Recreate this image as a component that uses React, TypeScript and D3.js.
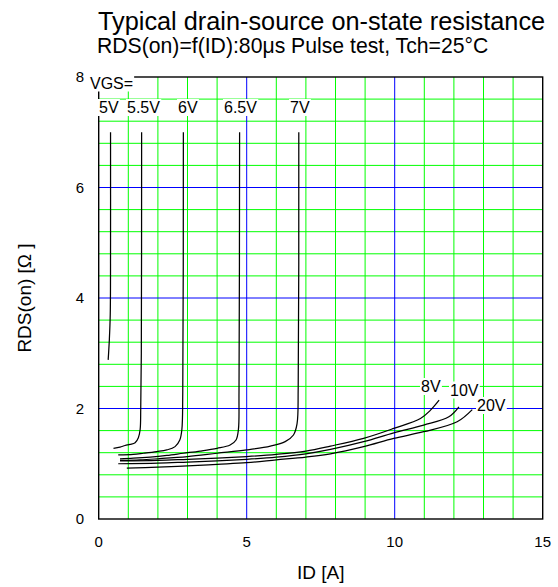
import React, { useEffect, useRef } from 'react';
import * as d3 from 'd3';

const W = 558;
const H = 587;

const TITLE = 'Typical drain-source on-state resistance';
const SUBTITLE = 'RDS(on)=f(ID):80μs Pulse test, Tch=25°C';
const X_LABEL = 'ID [A]';
const Y_LABEL = 'RDS(on) [Ω ]';
const VGS_PREFIX = 'VGS=';

const xTicks = [0, 5, 10, 15];
const yTicks = [0, 2, 4, 6, 8];
const xGridMinor = [1, 2, 3, 4, 6, 7, 8, 9, 11, 12, 13, 14];
const xGridMajor = [5, 10];
const yGridMinor = [0.4, 0.8, 1.2, 1.6, 2.4, 2.8, 3.2, 3.6, 4.4, 4.8, 5.2, 5.6, 6.4, 6.8, 7.2, 7.6];
const yGridMajor = [2, 4, 6];

// [ID (A), RDS(on) (ohm)]
const vgs5V = [[0.32, 2.88], [0.36, 3.25], [0.39, 3.7], [0.4, 5.0], [0.4, 7.0]];
const vgs5_5V = [[0.5, 1.28], [0.72, 1.3], [0.89, 1.33], [1.06, 1.35], [1.23, 1.38], [1.34, 1.47], [1.4, 1.62], [1.42, 2.0], [1.44, 3.0], [1.45, 7.0]];
const vgs6V = [[0.66, 1.16], [1.17, 1.17], [1.51, 1.19], [1.96, 1.22], [2.3, 1.25], [2.58, 1.31], [2.74, 1.43], [2.81, 1.62], [2.84, 2.3], [2.86, 7.0]];
const vgs6_5V = [[0.72, 1.09], [1.17, 1.1], [1.74, 1.12], [2.3, 1.15], [2.86, 1.19], [3.43, 1.23], [4.0, 1.28], [4.44, 1.34], [4.64, 1.43], [4.72, 1.62], [4.74, 2.3], [4.76, 7.0]];
const vgs7V = [[0.72, 1.06], [1.4, 1.07], [2.0, 1.09], [3.0, 1.13], [4.0, 1.19], [5.0, 1.25], [5.8, 1.32], [6.3, 1.4], [6.58, 1.52], [6.7, 1.72], [6.74, 2.4], [6.76, 7.0]];
const vgs8V = [[0.72, 1.05], [2.0, 1.06], [3.0, 1.08], [4.0, 1.1], [5.0, 1.13], [6.0, 1.17], [7.0, 1.23], [7.83, 1.32], [8.95, 1.46], [9.97, 1.64], [10.87, 1.82], [11.21, 1.97], [11.5, 2.15]];
const vgs10V = [[0.66, 1.0], [2.0, 1.01], [3.0, 1.03], [4.0, 1.05], [5.0, 1.08], [6.0, 1.12], [7.0, 1.18], [7.83, 1.26], [8.95, 1.4], [9.97, 1.56], [10.98, 1.7], [11.83, 1.85], [12.17, 2.03]];
const vgs20V = [[0.95, 0.92], [2.0, 0.94], [3.0, 0.96], [4.0, 0.99], [5.0, 1.02], [6.0, 1.07], [7.0, 1.12], [7.83, 1.18], [8.95, 1.31], [9.97, 1.46], [10.98, 1.58], [12.11, 1.76], [12.62, 1.98]];

const curves = [vgs5V, vgs5_5V, vgs6V, vgs6_5V, vgs7V, vgs8V, vgs10V, vgs20V];

const topLabels = ['5V', '5.5V', '6V', '6.5V', '7V'];
const rightLabels = ['8V', '10V', '20V'];

const FONT = '"Liberation Sans", Arial, Helvetica, sans-serif';

export default function App() {
  const ref = useRef<SVGSVGElement | null>(null);

  useEffect(() => {
    const svg = d3.select(ref.current);
    svg.selectAll('*').remove();

    const left = 98.7, right = 542.7, top = 77, bottom = 519;
    const x = d3.scaleLinear().domain([0, 15]).range([left, right]);
    const y = d3.scaleLinear().domain([0, 8]).range([bottom, top]);

    const g = svg.append('g');

    // grid
    const grid = g.append('g');
    grid.selectAll('line.xm').data(xGridMinor).enter().append('line')
      .attr('x1', d => x(d)).attr('x2', d => x(d)).attr('y1', top).attr('y2', bottom)
      .attr('stroke', '#00ff00').attr('stroke-width', 1);
    grid.selectAll('line.ym').data(yGridMinor).enter().append('line')
      .attr('y1', d => y(d)).attr('y2', d => y(d)).attr('x1', left).attr('x2', right)
      .attr('stroke', '#00ff00').attr('stroke-width', 1);
    grid.selectAll('line.xM').data(xGridMajor).enter().append('line')
      .attr('x1', d => x(d)).attr('x2', d => x(d)).attr('y1', top).attr('y2', bottom)
      .attr('stroke', '#0000ff').attr('stroke-width', 1);
    grid.selectAll('line.yM').data(yGridMajor).enter().append('line')
      .attr('y1', d => y(d)).attr('y2', d => y(d)).attr('x1', left).attr('x2', right)
      .attr('stroke', '#0000ff').attr('stroke-width', 1);

    // frame
    g.append('rect').attr('x', left).attr('y', top).attr('width', right - left).attr('height', bottom - top)
      .attr('fill', 'none').attr('stroke', '#000').attr('stroke-width', 1.4);

    // curves
    const line = d3.line<number[]>().x(d => x(d[0])).y(d => y(d[1])).curve(d3.curveCatmullRom.alpha(0.5));
    g.selectAll('path.c').data(curves).enter().append('path')
      .attr('d', d => line(d) as string)
      .attr('fill', 'none').attr('stroke', '#000').attr('stroke-width', 1.25);

    // labels with white boxes
    const addLabel = (txt: string, lx: number, ly: number) => {
      const lg = g.append('g');
      const rect = lg.append('rect').attr('fill', '#fff');
      const t = lg.append('text').attr('x', lx).attr('y', ly).text(txt)
        .attr('font-family', FONT).attr('font-size', 16).attr('fill', '#000');
      const bb = (t.node() as SVGTextElement).getBBox();
      rect.attr('x', bb.x - 1).attr('y', bb.y).attr('width', bb.width + 2).attr('height', bb.height);
    };
    addLabel(VGS_PREFIX, 90, 88.5);
    const topX = [99, 127, 178, 224, 290];
    topLabels.forEach((l, i) => addLabel(l, topX[i], 113));
    const rightPos = [[421, 392], [450, 395.5], [477, 411]];
    rightLabels.forEach((l, i) => addLabel(l, rightPos[i][0], rightPos[i][1]));

    // tick labels
    g.selectAll('text.xt').data(xTicks).enter().append('text')
      .attr('x', d => x(d)).attr('y', 546.5).attr('text-anchor', 'middle')
      .attr('font-family', FONT).attr('font-size', 15).text(d => String(d));
    g.selectAll('text.yt').data(yTicks).enter().append('text')
      .attr('x', 84).attr('y', d => y(d) + 5.3).attr('text-anchor', 'end')
      .attr('font-family', FONT).attr('font-size', 15).text(d => String(d));

    // axis titles
    g.append('text').attr('x', (left + right) / 2).attr('y', 578.5).attr('text-anchor', 'middle')
      .attr('font-family', FONT).attr('font-size', 19).text(X_LABEL);
    g.append('text').attr('transform', `translate(30.5,${(top + bottom) / 2}) rotate(-90)`)
      .attr('text-anchor', 'middle').attr('font-family', FONT).attr('font-size', 19).text(Y_LABEL);

    // titles
    g.append('text').attr('x', 98).attr('y', 29.5).attr('font-family', FONT).attr('font-size', 25.3).text(TITLE);
    g.append('text').attr('x', 97).attr('y', 53.3).attr('font-family', FONT).attr('font-size', 21.2).text(SUBTITLE);
  }, []);

  return (
    <svg ref={ref} width={W} height={H} style={{ position: 'absolute', left: 0, top: 0, background: '#fff' }} />
  );
}
